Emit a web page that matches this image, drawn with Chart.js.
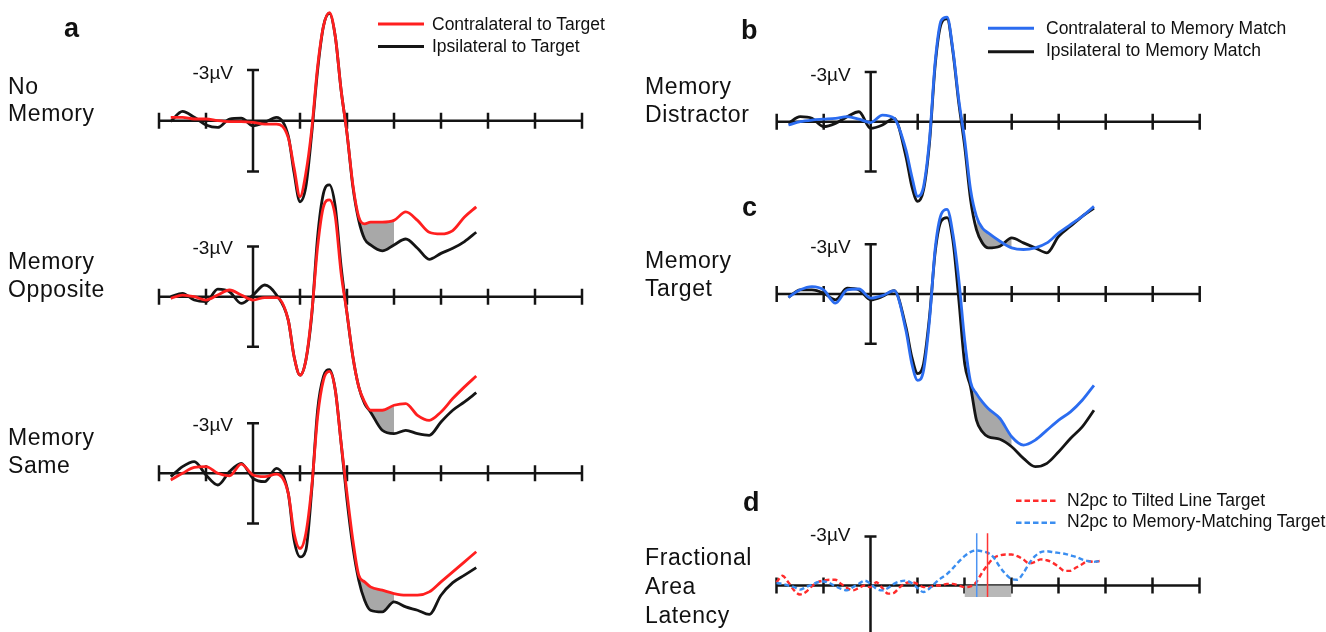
<!DOCTYPE html>
<html>
<head>
<meta charset="utf-8">
<title>N2pc waveforms</title>
<script src="https://cdn.jsdelivr.net/npm/chart.js@4.4.1/dist/chart.umd.min.js"></script>
<style>
  body { margin: 0; background: #fff; }
  #fig { position: relative; width: 1326px; height: 632px; overflow: hidden;
         font-family: 'Liberation Sans', Arial, Helvetica, sans-serif; color: #111; }
  #fig canvas { position: absolute; left: 0; top: 0; }
  #keys { position: absolute; left: 0; top: 0; }
  .txt { position: absolute; white-space: nowrap; }
</style>
</head>
<body>
<div id="fig">
  <canvas id="noMem" width="1326" height="632"></canvas>
  <canvas id="opp" width="1326" height="632"></canvas>
  <canvas id="same" width="1326" height="632"></canvas>
  <canvas id="dist" width="1326" height="632"></canvas>
  <canvas id="tgt" width="1326" height="632"></canvas>
  <canvas id="frac" width="1326" height="632"></canvas>
  <svg id="keys" width="1326" height="632">
    <line x1="378" y1="24" x2="424" y2="24" stroke="#ff1f1f" stroke-width="3"/>
    <line x1="378" y1="46.5" x2="424" y2="46.5" stroke="#151515" stroke-width="3"/>
    <line x1="988" y1="28.3" x2="1034" y2="28.3" stroke="#2b6cf0" stroke-width="3"/>
    <line x1="988" y1="51.7" x2="1034" y2="51.7" stroke="#151515" stroke-width="3"/>
    <line x1="1016" y1="500.7" x2="1058" y2="500.7" stroke="#ff2b2b" stroke-width="2.6" stroke-dasharray="5.5 3"/>
    <line x1="1016" y1="522.7" x2="1058" y2="522.7" stroke="#3b8ef0" stroke-width="2.6" stroke-dasharray="5.5 3"/>
  </svg>
</div>
<script>
const W = 1326, H = 632;

// time points (ms) shared by panels a-c
const times = [-175, -150, -125, -100, -75, -50, -25, 0, 25, 50,
  75, 87.5, 100, 112.5, 125, 137.5, 150, 162.5, 175, 187.5,
  200, 212.5, 225, 237.5, 250, 275, 300, 325, 350, 375, 400, 425, 450, 475];

// microvolts, negative plotted up
const noMemContra = [-0.2, -0.2, -0.1, -0.1, 0, 0.05, 0.05, 0.1, 0.2, 0.2,
  1.0, 2.8, 4.5, 3.1, 0.5, -3.2, -5.6, -6.4, -5.0, -1.8,
  0.75, 3.8, 5.7, 6.1, 6.0, 6.0, 5.9, 5.4, 5.9, 6.6, 6.7, 6.5, 5.7, 5.1];
const noMemIpsi = [0.05, -0.55, -0.2, 0.25, 0.4, -0.1, -0.15, 0.3, 0.1, -0.2,
  0.9, 3.1, 4.8, 3.9, 0.75, -3.0, -5.6, -6.35, -5.0, -1.8,
  0.75, 3.9, 5.9, 7.0, 7.35, 7.7, 7.35, 7.0, 7.55, 8.2, 7.85, 7.55, 7.15, 6.6];
const oppContra = [0.1, -0.1, 0, 0.2, -0.1, -0.4, -0.1, 0.2, 0.05, 0.05,
  1.4, 3.6, 4.7, 3.8, 1.0, -3.0, -5.4, -5.8, -4.8, -1.4,
  1.0, 3.6, 5.4, 6.3, 6.8, 6.8, 6.5, 6.4, 7.1, 7.4, 6.9, 6.1, 5.4, 4.75];
const oppIpsi = [0, -0.2, 0.2, 0.3, -0.45, -0.3, 0.4, -0.1, -0.7, -0.1,
  1.4, 3.6, 4.7, 3.8, 1.1, -3.6, -6.2, -6.7, -5.4, -1.8,
  1.0, 3.6, 5.4, 6.4, 6.9, 8.0, 8.2, 8.0, 8.2, 8.3, 7.5, 6.8, 6.3, 5.75];
const sameContra = [0.4, 0, -0.35, -0.4, 0, 0.15, -0.55, 0.1, 0.2, 0.05,
  1.2, 3.6, 4.5, 3.6, 0.8, -3.4, -5.6, -6.1, -5.0, -1.8,
  1.2, 4.0, 6.1, 6.5, 6.8, 7.0, 7.2, 7.3, 7.3, 7.1, 6.5, 5.9, 5.3, 4.7];
const sameIpsi = [0.2, -0.4, -0.7, 0.1, 0.7, -0.1, -0.6, 0.3, 0.5, -0.3,
  1.2, 4.0, 5.0, 4.6, 1.0, -3.8, -5.8, -6.2, -5.0, -1.8,
  1.6, 4.4, 6.4, 7.6, 8.2, 8.3, 7.7, 8.0, 8.2, 8.45, 7.3, 6.55, 6.1, 5.65];
const distContra = [0.2, 0, -0.1, -0.15, -0.2, -0.3, -0.15, 0.05, -0.4, -0.2,
  1.7, 3.3, 4.5, 3.9, 1.1, -3.7, -6.1, -6.3, -4.3, -1.3,
  1.1, 4.1, 5.7, 6.4, 6.7, 7.2, 7.6, 7.7, 7.6, 7.3, 6.7, 6.2, 5.7, 5.1];
const distIpsi = [0.1, -0.3, -0.2, 0.3, 0.1, -0.3, -0.6, 0.4, 0.2, -0.2,
  2.1, 3.9, 4.8, 4.1, 1.3, -3.5, -5.9, -6.2, -4.2, -1.1,
  1.5, 4.7, 6.5, 7.3, 7.6, 7.5, 7.0, 7.3, 7.6, 7.9, 6.9, 6.3, 5.7, 5.2];
const tgtContra = [0.2, -0.25, -0.45, -0.25, 0.55, -0.25, -0.3, 0.25, 0.1, -0.2,
  2.2, 4.2, 5.2, 4.6, 1.6, -2.8, -4.8, -5.1, -3.6, -0.85,
  2.8, 5.3, 6.0, 6.5, 6.9, 7.5, 8.6, 9.1, 8.8, 8.2, 7.6, 7.1, 6.4, 5.5];
const tgtIpsi = [0.2, -0.25, -0.25, -0.05, 0.35, -0.35, -0.25, 0.35, 0.15, -0.2,
  2.0, 3.8, 4.8, 4.2, 1.4, -2.6, -4.4, -4.6, -3.2, 0.35,
  4.2, 5.6, 7.6, 8.3, 8.6, 8.75, 9.2, 9.9, 10.4, 10.2, 9.5, 8.7, 8.0, 7.0];

// shaded N2pc windows (ms)
const noMemShade = [225, 300];
const oppShade = [250, 300];
const sameShade = [225, 300];
const distShade = [225, 300];
const tgtShade = [200, 300];

// panel d: difference waves
const dTimes = [-200, -187.5, -175, -162.5, -150, -137.5, -125, -112.5, -100, -87.5,
  -75, -62.5, -50, -37.5, -25, -12.5, 0, 12.5, 25, 37.5,
  50, 62.5, 75, 87.5, 100, 112.5, 125, 137.5, 150, 162.5,
  175, 187.5, 200, 212.5, 225, 237.5, 250, 262.5, 275, 287.5,
  300, 312.5, 325, 337.5, 350, 362.5, 375, 387.5, 400, 412.5,
  425, 437.5, 450, 462.5, 475, 487.5];
const tiltedN2pc = [-0.2, -0.6, -0.2, 0.3, 0.55, 0.4, 0.05, -0.2, -0.3, -0.35,
  -0.35, -0.1, 0.15, 0.3, 0.15, 0, 0.1, -0.2, 0.15, 0.5,
  0.45, 0.1, -0.15, -0.2, -0.1, 0.1, 0.1, 0, 0, -0.1,
  -0.1, 0, 0.1, 0.05, -0.2, -0.8, -1.3, -1.7, -1.85, -1.9,
  -1.9, -1.8, -1.6, -1.35, -1.45, -1.6, -1.55, -1.4, -1.15, -0.9,
  -0.9, -1.1, -1.3, -1.5, -1.45, -1.5];
const memN2pc = [-0.15, -0.1, 0, 0.1, 0.25, 0.1, -0.05, -0.2, -0.25, -0.15,
  0.05, 0.2, 0.3, 0.1, -0.1, -0.3, -0.1, 0.2, 0.3, 0.15,
  -0.1, -0.25, -0.3, -0.15, 0.15, 0.4, 0.2, -0.15, -0.45, -0.7,
  -1.05, -1.45, -1.8, -2.05, -2.15, -2.1, -2.0, -1.7, -1.15, -0.7,
  -0.4, -0.35, -0.75, -1.35, -1.8, -2.05, -2.1, -2.05, -2.0, -1.95,
  -1.85, -1.75, -1.6, -1.5, -1.45, -1.5];
const latencyTilted = 249;
const latencyMemory = 226;
const latencyLine = [-3.2, 0.7];
const fracWindow = [200, 300];
const fracDepth = 0.7;

const axisTicks = [-200, -100, 0, 100, 200, 300, 400, 500, 600, 700];
const barUV = 3;

// where each panel's origin sits on the page (px) and px per ms / per µV
const panels = {
  noMem: { x0: 253, y0: 120.7, kx: 0.47, ky: 16.9, labelDy: 9 },
  opp:   { x0: 253, y0: 296.7, kx: 0.47, ky: 16.7, labelDy: 8 },
  same:  { x0: 253, y0: 473.3, kx: 0.47, ky: 16.7, labelDy: 8 },
  dist:  { x0: 870.7, y0: 121.7, kx: 0.47, ky: 16.6, labelDy: 9 },
  tgt:   { x0: 870.7, y0: 294, kx: 0.47, ky: 16.6, labelDy: 9 },
  frac:  { x0: 870.5, y0: 585.5, kx: 0.47, ky: 16.3, labelDy: 4.5 }
};

const fig = document.getElementById('fig');

function addText(txt, x, baseline, size, opts = {}) {
  const d = document.createElement('div');
  d.className = 'txt';
  d.textContent = txt;
  d.style.fontSize = size + 'px';
  d.style.lineHeight = size + 'px';
  d.style.top = (baseline - 0.85 * size) + 'px';
  if (opts.right) d.style.right = (W - x) + 'px';
  else d.style.left = x + 'px';
  if (opts.bold) d.style.fontWeight = 'bold';
  if (opts.spacing) d.style.letterSpacing = opts.spacing + 'px';
  fig.appendChild(d);
}

// axis line with ticks + calibration bar at time zero
const erpAxes = {
  id: 'erpAxes',
  beforeDatasetsDraw(chart) {
    const { ctx, scales: { x, y } } = chart;
    const zy = y.getPixelForValue(0);
    const zx = x.getPixelForValue(0);
    const top = y.getPixelForValue(-barUV);
    const bot = y.getPixelForValue(barUV);
    ctx.save();
    ctx.strokeStyle = '#141414';
    ctx.lineWidth = 2.5;
    ctx.beginPath();
    ctx.moveTo(x.getPixelForValue(axisTicks[0]), zy);
    ctx.lineTo(x.getPixelForValue(axisTicks[axisTicks.length - 1]), zy);
    axisTicks.forEach(t => {
      const tx = x.getPixelForValue(t);
      ctx.moveTo(tx, zy - 8);
      ctx.lineTo(tx, zy + 8);
    });
    ctx.moveTo(zx, top); ctx.lineTo(zx, bot);
    ctx.moveTo(zx - 6, top); ctx.lineTo(zx + 6, top);
    ctx.moveTo(zx - 6, bot); ctx.lineTo(zx + 6, bot);
    ctx.stroke();
    ctx.restore();
  }
};

function pts(ts, vs) {
  return ts.map((t, i) => ({ x: t, y: vs[i] }));
}
function win(ts, vs, w) {
  return pts(ts, vs).filter(p => p.x >= w[0] && p.x <= w[1]);
}

function erpSets(contra, ipsi, color, shade) {
  return [
    { data: pts(times, contra), borderColor: color },
    { data: pts(times, ipsi), borderColor: '#151515' },
    { data: win(times, contra, shade), borderWidth: 0, fill: '+1', backgroundColor: '#a8a8a8' },
    { data: win(times, ipsi, shade), borderWidth: 0 }
  ];
}

function makeChart(id, datasets) {
  const p = panels[id];
  const chart = new Chart(document.getElementById(id), {
    type: 'line',
    data: { datasets },
    options: {
      responsive: false,
      animation: false,
      devicePixelRatio: 1,
      events: [],
      layout: { padding: 0 },
      elements: {
        point: { radius: 0 },
        line: { cubicInterpolationMode: 'monotone', borderWidth: 2.8 }
      },
      plugins: { legend: { display: false }, tooltip: { enabled: false } },
      scales: {
        x: { type: 'linear', display: false, min: -p.x0 / p.kx, max: (W - p.x0) / p.kx },
        y: { type: 'linear', display: false, reverse: true, min: -p.y0 / p.ky, max: (H - p.y0) / p.ky }
      }
    },
    plugins: [erpAxes]
  });
  const bx = chart.scales.x.getPixelForValue(0);
  const by = chart.scales.y.getPixelForValue(-barUV);
  addText('-3µV', bx - 20, by + p.labelDy, 19, { right: true });
  return chart;
}

const red = '#ff1f1f';
const blue = '#2b6cf0';

makeChart('noMem', erpSets(noMemContra, noMemIpsi, red, noMemShade));
makeChart('opp', erpSets(oppContra, oppIpsi, red, oppShade));
makeChart('same', erpSets(sameContra, sameIpsi, red, sameShade));
makeChart('dist', erpSets(distContra, distIpsi, blue, distShade));
makeChart('tgt', erpSets(tgtContra, tgtIpsi, blue, tgtShade));

const straight = { cubicInterpolationMode: 'default', tension: 0 };
makeChart('frac', [
  { ...straight, data: [{ x: latencyMemory, y: latencyLine[0] }, { x: latencyMemory, y: latencyLine[1] }],
    borderColor: '#4d94f2', borderWidth: 1.5 },
  { ...straight, data: [{ x: latencyTilted, y: latencyLine[0] }, { x: latencyTilted, y: latencyLine[1] }],
    borderColor: '#ff3333', borderWidth: 1.5 },
  { data: pts(dTimes, memN2pc), borderColor: '#3b8ef0', borderWidth: 2.4, borderDash: [5, 3] },
  { data: pts(dTimes, tiltedN2pc), borderColor: '#ff2b2b', borderWidth: 2.4, borderDash: [5, 3] },
  { ...straight, data: [{ x: fracWindow[0], y: fracDepth }, { x: fracWindow[1], y: fracDepth }],
    borderWidth: 0, fill: 'origin', backgroundColor: '#b8b8b8' }
]);

// panel letters and condition labels
addText('a', 64, 37.5, 27, { bold: true });
addText('b', 741, 40, 27, { bold: true });
addText('c', 742, 217, 27, { bold: true });
addText('d', 743, 511.5, 27, { bold: true });

const rowLabels = [
  ['No', 8, 94.5], ['Memory', 8, 121.5],
  ['Memory', 8, 269.5], ['Opposite', 8, 297.5],
  ['Memory', 8, 445.5], ['Same', 8, 473.5],
  ['Memory', 645, 95], ['Distractor', 645, 123],
  ['Memory', 645, 269], ['Target', 645, 297],
  ['Fractional', 645, 566], ['Area', 645, 595], ['Latency', 645, 623.5]
];
rowLabels.forEach(([t, x, b]) => addText(t, x, b, 23, { spacing: 0.6 }));

// legend texts
addText('Contralateral to Target', 432, 31, 17.5);
addText('Ipsilateral to Target', 432, 53, 17.5);
addText('Contralateral to Memory Match', 1046, 35, 17.5);
addText('Ipsilateral to Memory Match', 1046, 57, 17.5);
addText('N2pc to Tilted Line Target', 1067, 506.5, 17.5);
addText('N2pc to Memory-Matching Target', 1067, 528, 17.5);
</script>
</body>
</html>
